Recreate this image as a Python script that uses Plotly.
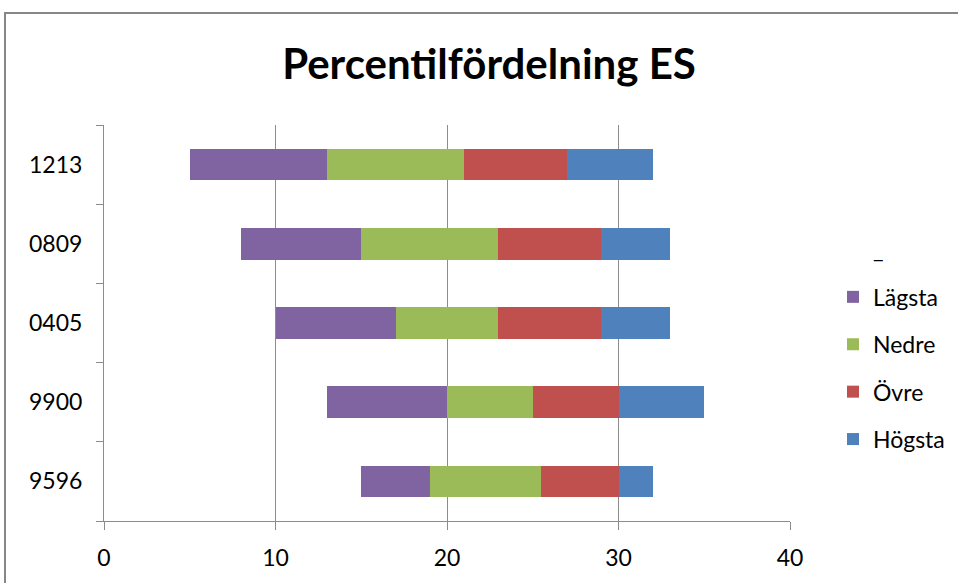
import plotly.graph_objects as go

# Survey periods, bottom to top
periods = ["9596", "9900", "0405", "0809", "1213"]

# Invisible offset where each bar starts
start = [15, 13, 10, 8, 5]

# Width of each percentile band
lagsta = [4, 7, 7, 7, 8]
nedre = [6.5, 5, 6, 8, 8]
ovre = [4.5, 5, 6, 6, 6]
hogsta = [2, 5, 4, 4, 5]

x_ticks = [0, 10, 20, 30, 40]

FONT = "Lato"
series = [
    ("_", start, "rgba(0,0,0,0)"),
    ("Lägsta", lagsta, "#8064A2"),
    ("Nedre", nedre, "#9BBB59"),
    ("Övre", ovre, "#C0504D"),
    ("Högsta", hogsta, "#4F81BD"),
]

fig = go.Figure()
for name, vals, color in series:
    fig.add_trace(go.Bar(
        y=periods, x=vals, name=name, orientation="h",
        marker=dict(color=color, line=dict(width=0)),
        legendgroup=name,
        hoverinfo="skip" if name == "_" else None,
    ))

# plot area in pixels: x 104..790, y 125..521
L, R, T, B = 104, 790, 125, 521
W, H = 958, 583
pw, ph = R - L, B - T

def px_x(v):
    return (v - L) / pw

def px_y(v):
    return (B - v) / ph

fig.update_layout(
    width=W, height=H,
    margin=dict(l=L, r=W - R, t=T, b=H - B, autoexpand=False),
    barmode="stack",
    bargap=0.6,
    plot_bgcolor="white",
    paper_bgcolor="white",
    font=dict(family=FONT, size=23, color="black"),
    title=dict(
        text="<b>Percentilfördelning ES</b>",
        font=dict(family=FONT, size=42, color="black"),
        xref="container", x=489 / W, xanchor="center",
        yref="container", y=1 - 64 / H, yanchor="middle",
    ),
    xaxis=dict(
        range=[0, 40], tickvals=x_ticks, showgrid=True,
        gridcolor="#8c8c8c", gridwidth=1, zeroline=False,
        showline=True, linecolor="#8c8c8c", linewidth=1,
        ticks="outside", ticklen=8, tickcolor="#8c8c8c",
        ticklabelstandoff=8, fixedrange=True,
    ),
    yaxis=dict(
        showgrid=False, zeroline=False, showline=True,
        linecolor="#8c8c8c", linewidth=1,
        ticks="outside", ticklen=7, tickcolor="#8c8c8c",
        tickson="boundaries", ticklabelstandoff=16,
        fixedrange=True,
    ),
    legend=dict(
        x=px_x(833), xanchor="left", y=px_y(228), yanchor="top",
        traceorder="grouped", tracegroupgap=14.5,
        font=dict(family=FONT, size=23, color="black"),
        bgcolor="rgba(0,0,0,0)",
    ),
    shapes=[dict(
        type="rect", xref="paper", yref="paper",
        x0=px_x(5), x1=px_x(970), y0=px_y(595), y1=px_y(13),
        line=dict(color="#878787", width=2), fillcolor="rgba(0,0,0,0)",
        layer="below",
    )],
)

fig.write_html("out.html")
